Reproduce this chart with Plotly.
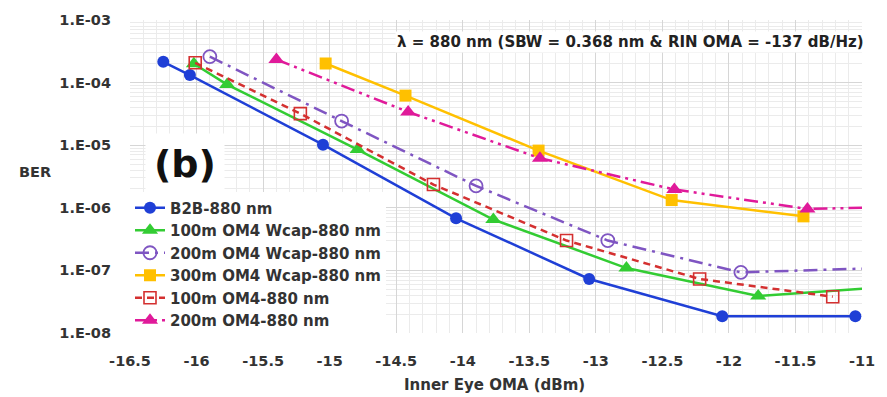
import plotly.graph_objects as go

# ---- data ----
b2b_x = [-16.25, -16.05, -15.05, -14.05, -13.05, -12.05, -11.05]
b2b_y = [2.15e-4, 1.32e-4, 1.02e-5, 6.8e-7, 7.3e-8, 1.85e-8, 1.85e-8]

wcap100_x = [-16.02, -15.77, -14.79, -13.77, -12.77, -11.78, -10.8]
wcap100_y = [2.0e-4, 9.3e-5, 8.5e-6, 6.5e-7, 1.09e-7, 3.9e-8, 5.45e-8]

wcap200_x = [-15.90, -14.91, -13.90, -12.91, -11.91, -10.8]
wcap200_y = [2.6e-4, 2.43e-5, 2.24e-6, 3.0e-7, 9.3e-8, 1.10e-7]

wcap300_x = [-15.03, -14.43, -13.43, -12.43, -11.44]
wcap300_y = [2.02e-4, 6.2e-5, 8.2e-6, 1.33e-6, 7.3e-7]

om4_100_x = [-16.01, -15.22, -14.22, -13.22, -12.22, -11.22]
om4_100_y = [2.07e-4, 3.2e-5, 2.35e-6, 3.0e-7, 7.3e-8, 3.8e-8]

om4_200_x = [-15.40, -14.41, -13.42, -12.41, -11.41, -10.8]
om4_200_y = [2.34e-4, 3.4e-5, 6.2e-6, 1.96e-6, 9.6e-7, 1.02e-6]

names = ["B2B-880 nm", "100m OM4 Wcap-880 nm", "200m OM4 Wcap-880 nm",
         "300m OM4 Wcap-880 nm", "100m OM4-880 nm", "200m OM4-880 nm"]

x_tickvals = [-16.5, -16, -15.5, -15, -14.5, -14, -13.5, -13, -12.5, -12, -11.5, -11]
x_ticktext = ["-16.5", "-16", "-15.5", "-15", "-14.5", "-14", "-13.5", "-13", "-12.5", "-12", "-11.5", "-11"]
y_tickvals = [1e-3, 1e-4, 1e-5, 1e-6, 1e-7, 1e-8]
y_ticktext = ["1.E-03", "1.E-04", "1.E-05", "1.E-06", "1.E-07", "1.E-08"]

title_text = "λ = 880 nm (SBW = 0.368 nm & RIN OMA = -137 dB/Hz)"

FONT = "DejaVu Sans"
TXT = "#333333"

fig = go.Figure()
fig.add_trace(go.Scatter(x=b2b_x, y=b2b_y, name=names[0], mode="lines+markers",
                         line=dict(color="#1f3fd6", width=2.5),
                         marker=dict(symbol="circle", size=12, color="#1f3fd6")))
fig.add_trace(go.Scatter(x=wcap100_x, y=wcap100_y, name=names[1], mode="lines+markers",
                         line=dict(color="#33cc33", width=2.5),
                         marker=dict(symbol="triangle-up", size=14, color="#33cc33")))
fig.add_trace(go.Scatter(x=wcap200_x, y=wcap200_y, name=names[2], mode="lines+markers",
                         line=dict(color="#7f55c2", width=2.5, dash="14px,6px,3px,6px"),
                         marker=dict(symbol="circle-open", size=13, color="#7f55c2",
                                     line=dict(width=1.8, color="#7f55c2"))))
fig.add_trace(go.Scatter(x=wcap300_x, y=wcap300_y, name=names[3], mode="lines+markers",
                         line=dict(color="#ffc000", width=2.5),
                         marker=dict(symbol="square", size=12, color="#ffc000")))
fig.add_trace(go.Scatter(x=om4_100_x, y=om4_100_y, name=names[4], mode="lines+markers",
                         line=dict(color="#d43030", width=2.5, dash="7px,5px"),
                         marker=dict(symbol="square-open", size=12, color="#d43030",
                                     line=dict(width=1.6, color="#d43030"))))
fig.add_trace(go.Scatter(x=om4_200_x, y=om4_200_y, name=names[5], mode="lines+markers",
                         line=dict(color="#e01a9a", width=2.5, dash="14px,5px,3px,5px,3px,5px"),
                         marker=dict(symbol="triangle-up", size=14, color="#e01a9a")))

minor_y = [k * 10.0 ** e for e in range(-8, -3) for k in range(2, 10)]

fig.update_layout(
    width=887, height=397,
    margin=dict(l=130, r=19, t=16, b=64),
    paper_bgcolor="white", plot_bgcolor="white",
    font=dict(family=FONT, size=15, color=TXT),
    showlegend=True,
    legend=dict(x=0.0, y=0.452, xanchor="left", yanchor="top",
                bgcolor="white", borderwidth=0, tracegroupgap=0,
                font=dict(family=FONT, size=15, color=TXT, weight="bold"),
                itemwidth=30),
    xaxis=dict(range=[-16.5, -11], tickvals=x_tickvals, ticktext=x_ticktext,
               showgrid=True, gridcolor="#d6d6d6", gridwidth=1,
               minor=dict(dtick=0.1, showgrid=True, gridcolor="#ebebeb", gridwidth=1),
               zeroline=False, showline=False, ticks="",
               ticklabelstandoff=17,
               tickfont=dict(family=FONT, size=14.5, color=TXT, weight="bold")),
    yaxis=dict(type="log", range=[-8, -3], tickvals=y_tickvals, ticktext=y_ticktext,
               showgrid=True, gridcolor="#d6d6d6", gridwidth=1,
               minor=dict(tickvals=minor_y, showgrid=True, gridcolor="#ebebeb", gridwidth=1),
               zeroline=False, showline=False, ticks="",
               ticklabelstandoff=18,
               tickfont=dict(family=FONT, size=14.5, color=TXT, weight="bold")),
    annotations=[
        dict(text=title_text, xref="paper", yref="paper", x=1.006, y=0.93,
             xanchor="right", yanchor="middle", showarrow=False, bgcolor="white",
             font=dict(family=FONT, size=15, color="#222222", weight="bold")),
        dict(text="(b)", xref="paper", yref="paper", x=0.021, y=0.54,
             xanchor="left", yanchor="middle", showarrow=False, bgcolor="white",
             borderpad=8,
             font=dict(family=FONT, size=38, color="#111111", weight="bold")),
        dict(text="BER", xref="paper", yref="paper", x=-0.13, y=0.515,
             xanchor="center", yanchor="middle", showarrow=False,
             font=dict(family=FONT, size=14.5, color=TXT, weight="bold")),
        dict(text="Inner Eye OMA (dBm)", xref="paper", yref="paper", x=0.498, y=-0.165,
             xanchor="center", yanchor="middle", showarrow=False,
             font=dict(family=FONT, size=15, color=TXT, weight="bold")),
    ],
)

fig.write_html("out.html")
